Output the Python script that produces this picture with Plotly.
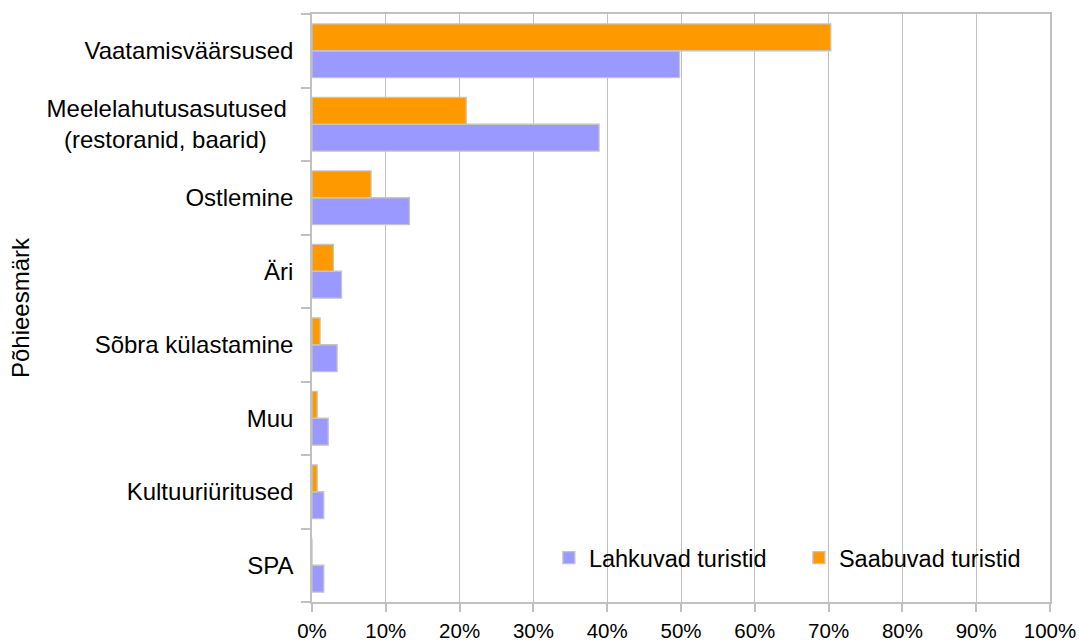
import plotly.graph_objects as go

categories = [
    "Vaatamisväärsused",
    "Meelelahutusasutused\u00a0<br>(restoranid, baarid)\u00a0\u00a0\u00a0\u00a0",
    "Ostlemine",
    "Äri",
    "Sõbra külastamine",
    "Muu",
    "Kultuuriüritused",
    "SPA",
]
lahkuvad = [49.8, 38.9, 13.2, 4.0, 3.4, 2.2, 1.6, 1.6]
saabuvad = [70.3, 20.9, 8.0, 2.9, 1.1, 0.7, 0.7, 0.0]
x_ticks = [0, 10, 20, 30, 40, 50, 60, 70, 80, 90, 100]
x_tick_labels = ["0%", "10%", "20%", "30%", "40%", "50%", "60%", "70%", "80%", "90%", "100%"]

FONT = "Liberation Sans, Arial, sans-serif"
GRID = "#c0c0c0"

fig = go.Figure()
fig.add_trace(go.Bar(
    y=categories, x=lahkuvad, orientation="h", name="Lahkuvad turistid",
    marker=dict(color="#9999ff", line=dict(color="#c4c4c4", width=1.3)),
))
fig.add_trace(go.Bar(
    y=categories, x=saabuvad, orientation="h", name="Saabuvad turistid",
    marker=dict(color="#ff9900", line=dict(color="#c4c4c4", width=1.3)),
))

fig.update_layout(
    width=1079, height=642,
    margin=dict(l=312, r=29, t=14, b=40, autoexpand=False),
    paper_bgcolor="white", plot_bgcolor="white",
    font=dict(family=FONT, color="black", size=24),
    barmode="group", bargap=0.27, bargroupgap=0,
    legend=dict(
        orientation="h", x=0.321, xanchor="left", y=0.075, yanchor="middle",
        bgcolor="rgba(0,0,0,0)", font=dict(size=23.5, family=FONT),
        entrywidth=205, entrywidthmode="pixels", traceorder="normal",
    ),
    showlegend=True,
)
fig.update_xaxes(
    range=[0, 100], tickmode="array", tickvals=x_ticks, ticktext=x_tick_labels,
    showgrid=True, gridcolor=GRID, gridwidth=1.2,
    showline=True, linecolor=GRID, linewidth=1.5, mirror=True,
    ticks="outside", ticklen=8, tickcolor=GRID, tickwidth=1.5,
    tickfont=dict(size=20.5, family=FONT), ticklabelstandoff=2,
    zeroline=False, automargin=False,
)
fig.update_yaxes(
    categoryorder="array", categoryarray=categories[::-1],
    showgrid=False, showline=True, linecolor=GRID, linewidth=1.5, mirror=True,
    ticks="outside", tickson="boundaries", ticklen=9, tickcolor=GRID, tickwidth=1.5,
    tickfont=dict(size=24, family=FONT), ticklabelstandoff=12,
    title=dict(text="Põhieesmärk", font=dict(size=24, family=FONT), standoff=10),
    automargin=False,
)

fig.write_html(
    "out.html",
    config={"displayModeBar": False},
    post_script="document.documentElement.style.margin='0';document.body.style.margin='0';",
)
